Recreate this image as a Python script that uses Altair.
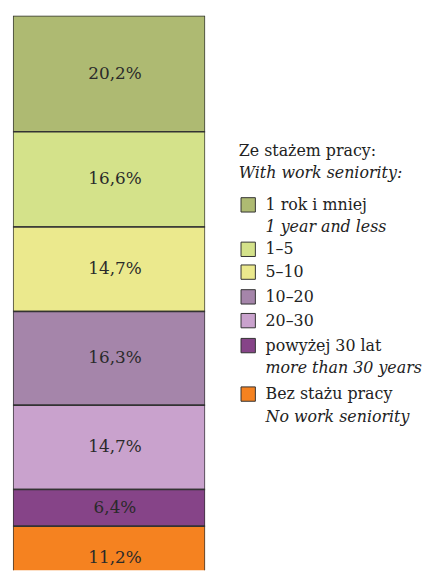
import altair as alt
import pandas as pd

categories = ["1 rok i mniej", "1–5", "5–10", "10–20", "20–30", "powyżej 30 lat", "Bez stażu pracy"]
values = [20.2, 16.6, 14.7, 16.3, 14.7, 6.4, 11.2]
labels = ["20,2%", "16,6%", "14,7%", "16,3%", "14,7%", "6,4%", "11,2%"]
colors = ["#aeba72", "#d4e28a", "#ebe98d", "#a585aa", "#c9a2cd", "#864488", "#f58220"]

legend_main = ["1 rok i mniej", "\u00a0\u00a01–5", "\u00a0\u00a05–10", "10–20", "20–30", "powyżej 30 lat", "Bez stażu pracy"]
legend_sub = ["1 year and less", "", "", "", "", "more than 30 years", "No work seniority"]
legend_main_row = [7.96, 9.83, 10.79, 11.83, 12.83, 13.88, 15.92]
legend_sub_row = [8.88, None, None, None, None, 14.83, 16.88]
title_lines = ["Ze stażem pracy:", "With work seniority:"]
title_rows = [5.71, 6.63]
title_italic = [False, True]

FONT = "DejaVu Serif"
BAR_W = 194
H = 560
PX_PER_PCT = 5.8
FS = 16
FS_BAR = 17

bar_df = pd.DataFrame({"cat": categories, "val": values, "lab": labels, "ord": list(range(len(categories)))})

color_scale = alt.Scale(domain=categories, range=colors)

base = alt.Chart(bar_df).transform_stack(
    stack="val", groupby=[], sort=[alt.SortField("ord", order="ascending")], as_=["y0", "y1"]
).transform_calculate(mid="(datum.y0 + datum.y1) / 2")

yscale = alt.Scale(domain=[0, H / PX_PER_PCT], reverse=True, nice=False, zero=False)

bars = base.mark_bar(stroke="#333333", strokeWidth=1.5, clip=True).encode(
    x=alt.value(0),
    x2=alt.value(BAR_W),
    y=alt.Y("y0:Q", scale=yscale, axis=None),
    y2="y1:Q",
    color=alt.Color("cat:N", scale=color_scale, legend=None),
)
texts = base.mark_text(font=FONT, fontSize=FS_BAR, color="#2a2a2a").encode(
    x=alt.value(BAR_W / 2 + 6),
    y=alt.Y("mid:Q", scale=yscale, axis=None),
    text="lab:N",
)
bar_chart = alt.layer(bars, texts).properties(width=BAR_W, height=H)

# Legend panel
items_df = pd.DataFrame({"cat": categories, "main": legend_main, "row": legend_main_row})
sub_rows = [(s, r) for s, r in zip(legend_sub, legend_sub_row) if s]
sub_df = pd.DataFrame({"sub": [s for s, _ in sub_rows], "row": [r for _, r in sub_rows]})
title_df = pd.DataFrame({"t": title_lines, "row": title_rows, "it": title_italic})

ysc = alt.Scale(domain=[0, H / 24], nice=False, zero=False, reverse=True)

squares = alt.Chart(items_df).mark_square(size=210, stroke="#333333", strokeWidth=1, opacity=1).encode(
    x=alt.value(27.5),
    y=alt.Y("row:Q", scale=ysc, axis=None),
    fill=alt.Color("cat:N", scale=color_scale, legend=None),
)
main_txt = alt.Chart(items_df).mark_text(font=FONT, fontSize=FS, align="left", baseline="middle", color="#222222").encode(
    x=alt.value(45),
    y=alt.Y("row:Q", scale=ysc, axis=None),
    text="main:N",
)
sub_txt = alt.Chart(sub_df).mark_text(font=FONT, fontSize=FS, fontStyle="italic", align="left", baseline="middle", color="#222222").encode(
    x=alt.value(45),
    y=alt.Y("row:Q", scale=ysc, axis=None),
    text="sub:N",
)
t1 = alt.Chart(title_df[~title_df.it]).mark_text(font=FONT, fontSize=FS, align="left", baseline="middle", color="#222222").encode(
    x=alt.value(18),
    y=alt.Y("row:Q", scale=ysc, axis=None),
    text="t:N",
)
t2 = alt.Chart(title_df[title_df.it]).mark_text(font=FONT, fontSize=FS, fontStyle="italic", align="left", baseline="middle", color="#222222").encode(
    x=alt.value(18),
    y=alt.Y("row:Q", scale=ysc, axis=None),
    text="t:N",
)
legend_chart = alt.layer(squares, main_txt, sub_txt, t1, t2).properties(width=206, height=H)

chart = alt.hconcat(bar_chart, legend_chart, spacing=16).properties(
    padding={"left": 5, "top": 5, "right": 0, "bottom": 0}
).configure(
    background="white"
).configure_view(stroke=None)

chart.save("out.html", embed_options={"renderer": "svg", "actions": False})
